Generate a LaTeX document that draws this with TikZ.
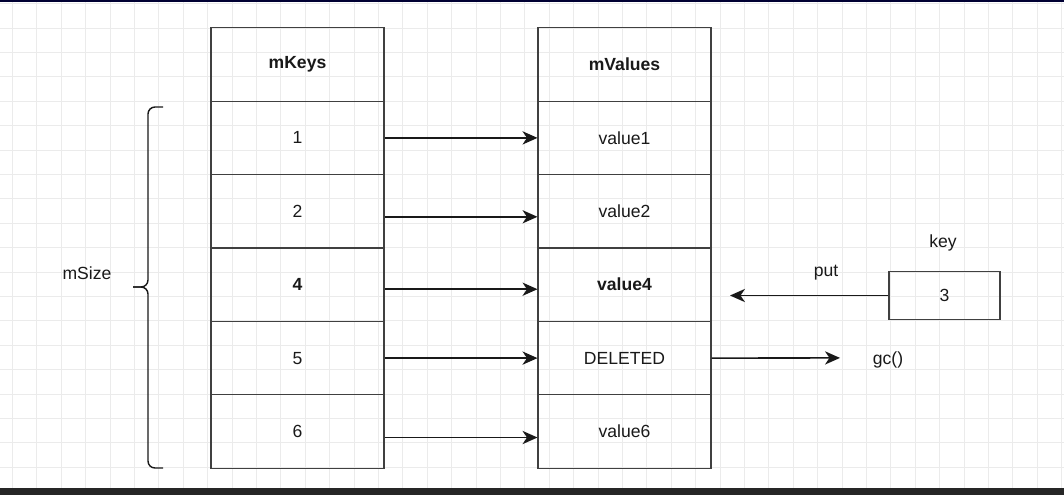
\documentclass[tikz,border=0pt]{standalone}
\usepackage{fontspec}
\setmainfont{Liberation Sans}
\usetikzlibrary{arrows.meta}

\tikzset{
  cell/.style={draw=black!75, line width=0.6pt, minimum width=3.46cm, minimum height=1.466cm, inner sep=0pt, text=black!90, font=\fontsize{10}{12}\selectfont},
  plainrow/.style={},
  boldrow/.style={font=\fontsize{10}{12}\selectfont\bfseries},
  link/.style={-{Stealth[length=8.5pt,width=7.5pt,inset=2.5pt]}, line width=0.9pt, black!90},
  lbl/.style={text=black!90, font=\fontsize{10}{12}\selectfont}
}

\begin{document}
\begin{tikzpicture}[x=0.02cm, y=-0.02cm]
        \useasboundingbox (0,0) rectangle (1064,495);
        \fill[white] (0,0) rectangle (1064,495);

        % Background grid
        \foreach \x in {0,...,43}
            \draw[black!8, line width=0.4pt] (12.3+24.4*\x,2) -- (12.3+24.4*\x,488);
        \foreach \y in {0,...,19}
            \draw[black!8, line width=0.4pt] (0,3.6+24.4*\y) -- (1064,3.6+24.4*\y);

        % Window edges
        \fill[black!80!blue] (0,0) rectangle (1064,1.5);
        \fill[black!85] (0,488) rectangle (1064,495);

        % Headers
        \node[cell, boldrow] (khead) at (297.5,64.5) {mKeys};
        \node[cell, boldrow] (vhead) at (624.5,64.5) {mValues};

        % Rows of both arrays
        \foreach \k/\v/\w [count=\n] in {1/value1/plainrow, 2/value2/plainrow, 4/value4/boldrow, 5/DELETED/plainrow, 6/value6/plainrow}
        {
            \node[cell, \w] (k\n) at (297.5,64.5+73.4*\n) {\k};
            \node[cell, \w] (v\n) at (624.5,64.5+73.4*\n) {\v};
        }

        % Links from keys to values
        \foreach \n/\d in {1/0, 2/5.5, 3/4.5, 4/0, 5/6}
            \draw[link] ([yshift=-\d*0.02cm]k\n.east) -- ([yshift=-\d*0.02cm]v\n.west);

        % Size brace
        \coordinate (btop) at (163,107);
        \coordinate (bbot) at (163,468);
        \coordinate (btip) at (133,287);
        \draw[line width=0.8pt, black!90, rounded corners=0.14cm] (btop) -| ([xshift=0.3cm]btip) -- (btip);
        \draw[line width=0.8pt, black!90, rounded corners=0.14cm] (btip) -- ([xshift=0.3cm]btip) |- (bbot);
        \node[lbl] (msize) at (87,273) {mSize};

        % New key
        \node[cell, minimum width=2.22cm, minimum height=0.96cm] (newkey) at (944.5,295.5) {3};
        \node[lbl] (keylbl) at (943,243) {key};
        \coordinate (putend) at (730,295.5);
        \draw[link] (newkey.west) -- (putend);
        \node[lbl] (putlbl) at (826,273) {put};

        % Garbage collection
        \coordinate (gcend) at (840,357.9);
        \draw[link] (v4.east) -- (gcend);
        \node[lbl] (gclbl) at (888,360) {gc()};
\end{tikzpicture}
\end{document}
